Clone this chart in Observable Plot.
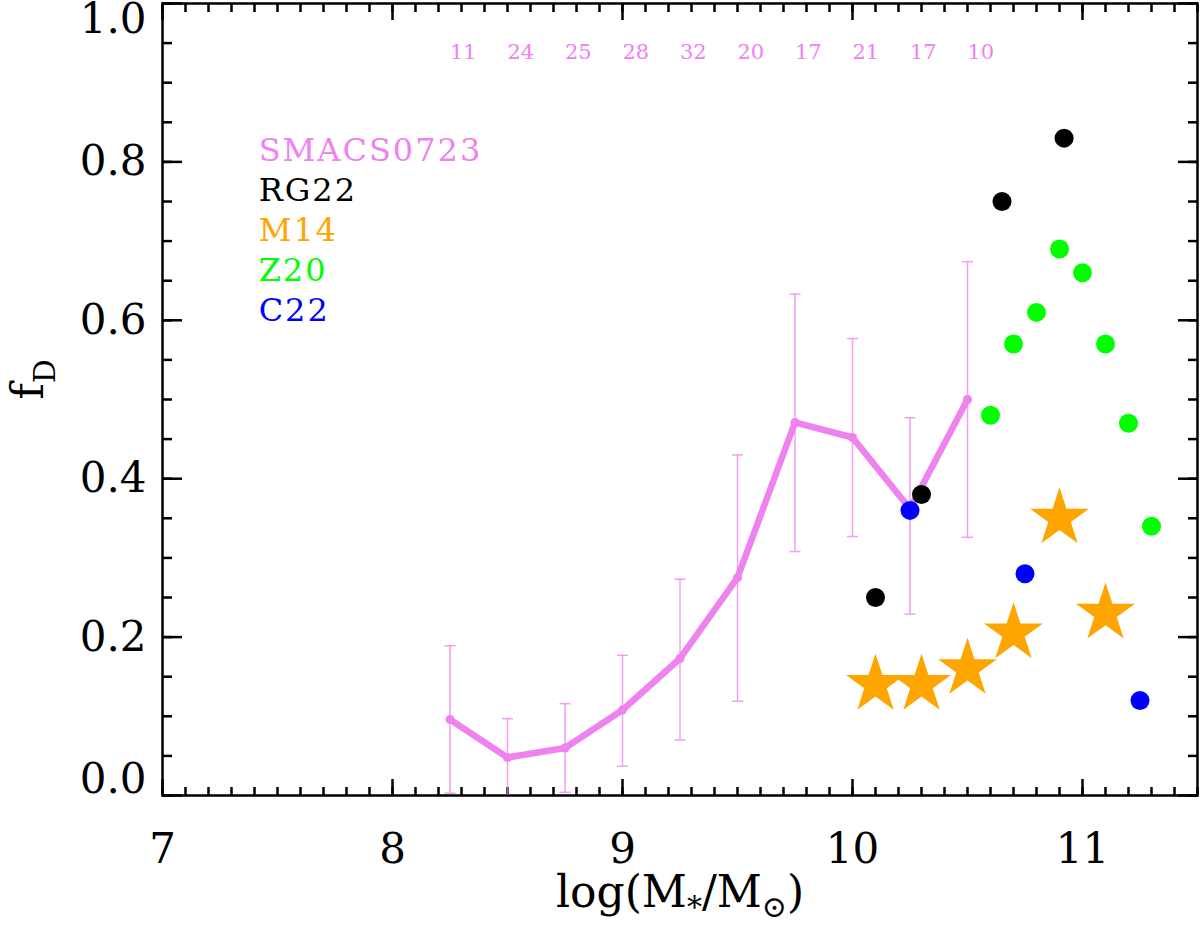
<!DOCTYPE html>
<html>
<head>
<meta charset="utf-8">
<script src="https://cdn.jsdelivr.net/npm/d3@7"></script>
<script src="https://cdn.jsdelivr.net/npm/@observablehq/plot@0.6"></script>
<style>
  body { margin: 0; background: white; }
</style>
</head>
<body>
<div id="chart"></div>
<script>
// SMACS0723 binned disk fraction, with error bars and number of galaxies per bin
const binMass = [8.25, 8.5, 8.75, 9.0, 9.25, 9.5, 9.75, 10.0, 10.25, 10.5]
const binFrac = [0.096, 0.048, 0.060, 0.108, 0.173, 0.275, 0.471, 0.452, 0.362, 0.500]
const binLo = [0.003, -0.001, 0.004, 0.037, 0.070, 0.119, 0.308, 0.327, 0.229, 0.326]
const binHi = [0.189, 0.097, 0.116, 0.177, 0.273, 0.430, 0.633, 0.577, 0.477, 0.674]
const binCount = [11, 24, 25, 28, 32, 20, 17, 21, 17, 10]

// comparison samples
const rg22Mass = [10.1, 10.3, 10.65, 10.92]
const rg22Frac = [0.25, 0.38, 0.75, 0.83]
const m14Mass = [10.1, 10.3, 10.5, 10.7, 10.9, 11.1]
const m14Frac = [0.14, 0.14, 0.16, 0.205, 0.35, 0.23]
const z20Mass = [10.6, 10.7, 10.8, 10.9, 11.0, 11.1, 11.2, 11.3]
const z20Frac = [0.48, 0.57, 0.61, 0.69, 0.66, 0.57, 0.47, 0.34]
const c22Mass = [10.25, 10.75, 11.25]
const c22Frac = [0.36, 0.28, 0.12]

const legendNames = ['SMACS0723', 'RG22', 'M14', 'Z20', 'C22']
const legendColors = ['violet', 'black', 'orange', 'lime', 'blue']

const xMajor = [7, 8, 9, 10, 11]
const xMinor = d3.range(70, 116).map(d => d / 10)
const yMajor = [0, 0.2, 0.4, 0.6, 0.8, 1.0]
const yMinor = d3.range(0, 21).map(d => d / 20)

const xLabel = 'log(M*/M⊙)'
const yLabel = 'fD'

// tablas para Plot
const bins = binMass.map((x, i) => ({x, y: binFrac[i], lo: binLo[i], hi: binHi[i], n: binCount[i]}))
const pts = (xs, ys) => xs.map((x, i) => ({x, y: ys[i]}))
const legend = legendNames.map((name, i) => ({name, color: legendColors[i], row: i}))

const legendX = 7.418
const legendTop = 0.814
const legendStep = 0.0505
const countY = 0.938

// simbolo para los extremos de las barras de error
const cap = {
  draw(ctx, size) {
    const r = Math.sqrt(size / Math.PI)
    ctx.moveTo(-r, 0)
    ctx.lineTo(r, 0)
  }
}

const tickOpts = {tickFormat: () => '', label: null, strokeWidth: 2.5}
const yLabOpts = {anchor: 'left', tickSize: 0, tickPadding: 16, fontSize: 42, label: null, tickFormat: d3.format('.1f')}

let chart = Plot.plot({
  width: 1200,
  height: 933,
  marginLeft: 162,
  marginRight: 3,
  marginTop: 3,
  marginBottom: 138,
  style: {fontFamily: 'DejaVu Serif', fontSize: '40px', color: 'black', background: 'white'},
  x: {domain: [7, 11.5]},
  y: {domain: [0, 1]},
  color: {type: 'identity'},
  marks: [
    // ticks hacia adentro en los cuatro lados
    Plot.axisX(xMinor, {anchor: 'bottom', tickSize: -8, ...tickOpts}),
    Plot.axisX(xMajor, {anchor: 'bottom', tickSize: -16, ...tickOpts}),
    Plot.axisX(xMinor, {anchor: 'top', tickSize: -8, ...tickOpts}),
    Plot.axisX(xMajor, {anchor: 'top', tickSize: -16, ...tickOpts}),
    Plot.axisY(yMinor, {anchor: 'left', tickSize: -10, ...tickOpts}),
    Plot.axisY(yMajor, {anchor: 'left', tickSize: -20, ...tickOpts}),
    Plot.axisY(yMinor, {anchor: 'right', tickSize: -10, ...tickOpts}),
    Plot.axisY(yMajor, {anchor: 'right', tickSize: -20, ...tickOpts}),
    Plot.axisX(xMajor, {anchor: 'bottom', tickSize: 0, tickPadding: 38, fontSize: 42, label: null, tickFormat: d3.format('d')}),
    // las etiquetas de los extremos quedan dentro del marco, como en IDL
    Plot.axisY(yMajor.slice(1, -1), yLabOpts),
    Plot.axisY(yMajor.slice(0, 1), {...yLabOpts, dy: -16}),
    Plot.axisY(yMajor.slice(-1), {...yLabOpts, dy: 16}),
    Plot.frame({stroke: 'black', strokeWidth: 2.5}),

    // barras de error
    Plot.ruleX(bins, {x: 'x', y1: 'lo', y2: 'hi', stroke: 'violet', strokeWidth: 1.5, strokeOpacity: 0.75, clip: true}),
    Plot.dot(bins, {x: 'x', y: 'hi', symbol: cap, r: 5.5, fill: 'none', stroke: 'violet', strokeWidth: 1.5, strokeOpacity: 0.75}),
    Plot.dot(bins.filter(d => d.lo > 0), {x: 'x', y: 'lo', symbol: cap, r: 5.5, fill: 'none', stroke: 'violet', strokeWidth: 1.5, strokeOpacity: 0.75}),

    Plot.line(bins, {x: 'x', y: 'y', stroke: 'violet', strokeWidth: 6.5}),
    Plot.dot(bins, {x: 'x', y: 'y', r: 4.5, fill: 'violet'}),
    Plot.text(bins, {x: 'x', y: () => countY, text: d => String(d.n), fill: 'violet', textAnchor: 'start', fontSize: 21}),

    Plot.dot(pts(rg22Mass, rg22Frac), {x: 'x', y: 'y', r: 9.5, fill: 'black'}),
    Plot.dot(pts(m14Mass, m14Frac), {x: 'x', y: 'y', r: 18.5, symbol: 'star', fill: 'orange'}),
    Plot.dot(pts(z20Mass, z20Frac), {x: 'x', y: 'y', r: 9.5, fill: 'lime'}),
    Plot.dot(pts(c22Mass, c22Frac), {x: 'x', y: 'y', r: 9.5, fill: 'blue'}),

    // leyenda
    Plot.text(legend, {x: () => legendX, y: d => legendTop - d.row * legendStep, text: 'name', fill: 'color', textAnchor: 'start', fontSize: 32}),

    // titulos de ejes
    Plot.text([xLabel], {frameAnchor: 'bottom', dy: 111, text: d => d, fontSize: 44}),
    Plot.text([yLabel], {frameAnchor: 'left', dx: -134, rotate: -90, text: d => d, fontSize: 44})
  ]
})

d3.select('#chart').append(() => chart)

// subindices y espaciado que Plot no hace solo
const svg = d3.select(chart.tagName === 'svg' ? chart : chart.querySelector('svg'))
svg.selectAll('text').each(function () {
  const t = this.textContent
  if (t === xLabel) {
    d3.select(this).html('log(M<tspan dy="10" font-size="30">*</tspan><tspan dy="-10">/M</tspan><tspan dy="10" font-size="30">⊙</tspan><tspan dy="-10">)</tspan>')
  } else if (t === yLabel) {
    d3.select(this).html('f<tspan dy="12" font-size="30">D</tspan>')
  } else if (legendNames.includes(t)) {
    d3.select(this).style('letter-spacing', '2px')
  }
})
</script>
</body>
</html>
